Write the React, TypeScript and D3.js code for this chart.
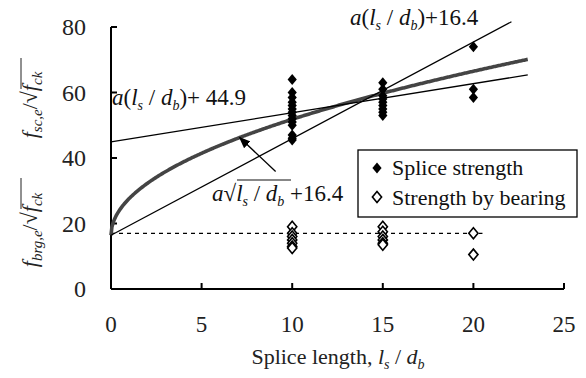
import React from "react";
import * as d3 from "d3";

const W = 586;
const H = 378;
const margin = { top: 27, right: 22, bottom: 88, left: 111 };

// measured strengths, grouped by splice length
const lengths = [10, 15, 20];
const spliceStrength = [
  [64, 60, 58.5, 57, 56, 55, 54, 53, 52, 51, 50, 47, 46, 45.5],
  [63, 61, 59, 58, 57, 56, 55, 54, 53],
  [74, 61, 58.5],
];
const bearingStrength = [
  [19, 17, 16, 15, 14, 13, 12.5],
  [19, 17.5, 16, 15, 14, 13.5],
  [17, 10.5],
];

const xTicks = [0, 5, 10, 15, 20, 25];
const yTicks = [0, 20, 40, 60, 80];

// fitted relations: [coefficient a, constant, last x]
const steepFit = [2.95, 16.4, 22.1];
const flatFit = [0.89, 44.9, 23];
const sqrtFit = [11.2, 16.4, 23];
const bearingLevel = [17, 20.5];

const serif = "Liberation Serif";
const font = { fontFamily: serif };
const diamond = "M0,-5.5L4.6,0L0,5.5L-4.6,0Z";

// text pieces: [text, italic, subscript]
type Piece = [string, boolean, boolean];
const ratio: Piece[] = [
  ["l", true, false],
  ["s", true, true],
  [" / ", false, false],
  ["d", true, false],
  ["b", true, true],
];

function pieces(list: Piece[], subSize = 13, shift = 5) {
  let wasSub = false;
  return list.map(([t, it, sub], i) => {
    let dy = 0;
    if (sub && !wasSub) dy = shift;
    if (!sub && wasSub) dy = -shift;
    wasSub = sub;
    return (
      <tspan
        key={i}
        dy={dy || undefined}
        fontStyle={it ? "italic" : undefined}
        fontSize={sub ? subSize : undefined}
      >
        {t}
      </tspan>
    );
  });
}

export default function App() {
  const x = d3.scaleLinear().domain([0, 25]).range([margin.left, W - margin.right]);
  const y = d3.scaleLinear().domain([0, 80]).range([H - margin.bottom - 1, margin.top]);

  const line = d3
    .line<[number, number]>()
    .x((d) => x(d[0]))
    .y((d) => y(d[1]));

  const sqrtCurve = (v: number) => sqrtFit[0] * Math.sqrt(v) + sqrtFit[1];
  const curvePts: [number, number][] = d3
    .range(0, sqrtFit[2] + 0.001, 0.05)
    .map((v) => [v, sqrtCurve(v)]);
  const steepPts: [number, number][] = [0, steepFit[2]].map((v) => [v, steepFit[0] * v + steepFit[1]]);
  const flatPts: [number, number][] = [0, flatFit[2]].map((v) => [v, flatFit[0] * v + flatFit[1]]);

  const tipX = x(7.1);
  const tipY = y(sqrtCurve(7.1));
  const y0 = y(0);

  return (
    <svg
      width={W}
      height={H}
      style={{ position: "absolute", left: 0, top: 0, background: "#fff", fontFamily: serif }}
    >
      <defs>
        <marker id="arr" viewBox="0 0 10 10" refX="9" refY="5" markerWidth="9" markerHeight="9" orient="auto">
          <path d="M0,1L10,5L0,9Z" fill="#000" />
        </marker>
      </defs>

      {/* axes */}
      <line x1={x(0)} x2={x(25)} y1={y0} y2={y0} stroke="#000" strokeWidth={2} />
      <line x1={x(0)} x2={x(0)} y1={y0} y2={y(80)} stroke="#000" strokeWidth={2} />
      {xTicks.map((t) => (
        <g key={"x" + t}>
          <line x1={x(t)} x2={x(t)} y1={y0} y2={y0 - 6} stroke="#000" strokeWidth={2} />
          <text x={x(t)} y={332} textAnchor="middle" fontSize={23} fill="#222" style={font}>{t}</text>
        </g>
      ))}
      {yTicks.map((t) => (
        <g key={"y" + t}>
          <line x1={x(0)} x2={x(0) + 6} y1={y(t)} y2={y(t)} stroke="#000" strokeWidth={2} />
          <text x={86} y={y(t) + 8} textAnchor="end" fontSize={24} fill="#222" style={font}>{t}</text>
        </g>
      ))}

      {/* bearing level */}
      <line
        x1={x(0)}
        x2={x(bearingLevel[1])}
        y1={y(bearingLevel[0])}
        y2={y(bearingLevel[0])}
        stroke="#000"
        strokeWidth={1.2}
        strokeDasharray="4,4"
      />

      {/* fits */}
      <path d={line(curvePts) || ""} fill="none" stroke="#444" strokeWidth={3.6} />
      <path d={line(steepPts) || ""} fill="none" stroke="#000" strokeWidth={1.3} />
      <path d={line(flatPts) || ""} fill="none" stroke="#000" strokeWidth={1.3} />

      {/* points */}
      {lengths.map((L, i) =>
        spliceStrength[i].map((v, j) => (
          <path key={`s${i}-${j}`} d={diamond} transform={`translate(${x(L)},${y(v)})`} fill="#000" />
        ))
      )}
      {lengths.map((L, i) =>
        bearingStrength[i].map((v, j) => (
          <path
            key={`b${i}-${j}`}
            d={diamond}
            transform={`translate(${x(L)},${y(v)})`}
            fill="#fff"
            stroke="#000"
            strokeWidth={1.6}
          />
        ))
      )}

      {/* arrow */}
      <line x1={tipX + 36} y1={tipY + 34} x2={tipX} y2={tipY} stroke="#000" strokeWidth={1.3} markerEnd="url(#arr)" />

      {/* formulas */}
      <text x={350} y={25} fontSize={23} fill="#111" style={font}>
        {pieces([["a", true, false], ["(", false, false], ...ratio, [")+16.4", false, false]], 14)}
      </text>
      <text x={112} y={105} fontSize={23} fill="#111" style={font}>
        {pieces([["a", true, false], ["(", false, false], ...ratio, [")+ 44.9", false, false]], 14)}
      </text>
      <text x={212} y={201} fontSize={23} fill="#111" style={font}>
        {pieces([["a", true, false], ["√", false, false], ...ratio, [" +16.4", false, false]], 14)}
      </text>
      <line x1={237} x2={291} y1={180} y2={180} stroke="#111" strokeWidth={1.2} />

      {/* legend */}
      <rect x={358} y={150} width={219} height={67} fill="#fff" stroke="#000" strokeWidth={1.3} />
      <path d={diamond} transform="translate(377,168)" fill="#000" />
      <text x={392} y={175} fontSize={22} fill="#111" style={font}>Splice strength</text>
      <path d={diamond} transform="translate(377,197)" fill="#fff" stroke="#000" strokeWidth={1.6} />
      <text x={392} y={205} fontSize={22} fill="#111" style={font}>Strength by bearing</text>

      {/* y labels */}
      <text transform="translate(37,105) rotate(-90)" textAnchor="middle" fontSize={22} fill="#222" style={font}>
        {pieces(
          [["f", true, false], ["sc,e", true, true], ["/√", false, false], ["f", true, false], ["ck", true, true]],
          15
        )}
      </text>
      <line x1={21} x2={21} y1={58} y2={89} stroke="#222" strokeWidth={1} />
      <text transform="translate(37,230) rotate(-90)" textAnchor="middle" fontSize={22} fill="#222" style={font}>
        {pieces(
          [["f", true, false], ["brg,e", true, true], ["/√", false, false], ["f", true, false], ["ck", true, true]],
          15
        )}
      </text>
      <line x1={21} x2={21} y1={178} y2={209} stroke="#222" strokeWidth={1} />

      {/* x label */}
      <text x={338} y={364} textAnchor="middle" fontSize={22} fill="#222" style={font}>
        {pieces([["Splice length, ", false, false], ...ratio], 14)}
      </text>
    </svg>
  );
}
